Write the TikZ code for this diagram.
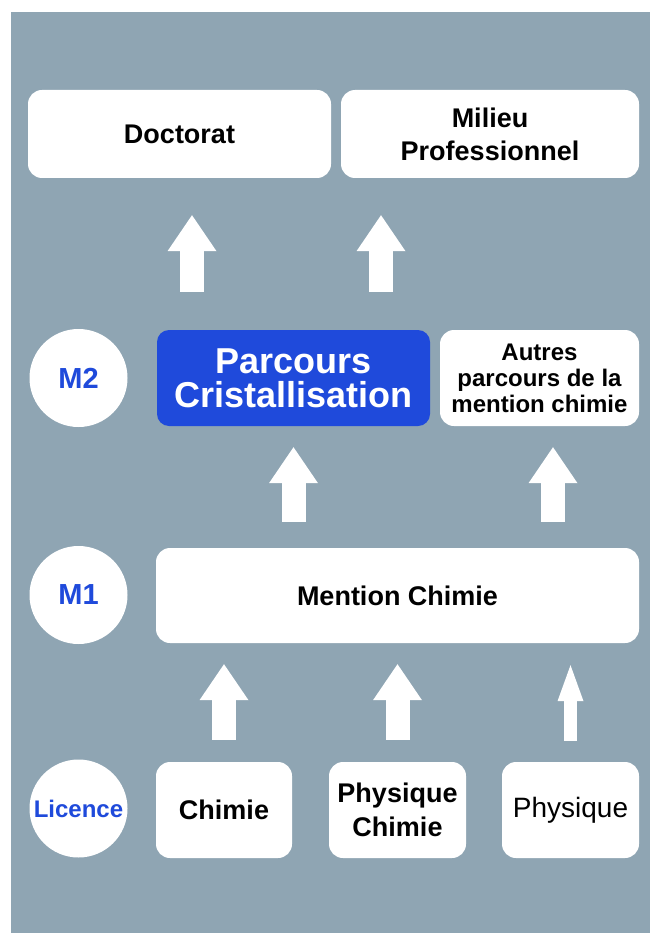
\documentclass[tikz,border=0pt]{standalone}
\usepackage{fontspec}
\setmainfont{Liberation Sans}
\usetikzlibrary{calc,arrows.meta}
\definecolor{fond}{HTML}{8FA5B3}
\definecolor{bleu}{HTML}{1F4ADB}
\tikzset{
  boite/.style={fill=white, rounded corners=14pt, minimum width=#1, minimum height=96pt,
    inner sep=0pt, align=center, font=\bfseries\fontsize{27}{33}\selectfont},
  niveau/.style={circle, fill=white, minimum size=98pt, inner sep=0pt, text=bleu,
    font=\bfseries\fontsize{29}{32}\selectfont},
  fleche/.style={draw=white, line width=24pt, -{Triangle[width=49pt,length=36pt,line width=0pt]}},
  flechefine/.style={draw=white, line width=12.6pt, -{Triangle[width=26pt,length=36pt,line width=0pt]}},
}
\begin{document}
\begin{tikzpicture}[x=1pt,y=-1pt]
  \useasboundingbox (0,0) rectangle (650,933);
  \fill[fond] (11,12) rectangle (650,933);
  % niveaux
  \node[niveau] (M2) at (78.5,378) {M2};
  \node[niveau] (M1) at (78.5,595) {M1};
  \node[niveau,font=\bfseries\fontsize{24}{28}\selectfont] (L) at (78.5,808.5) {Licence};
  % licences
  \node[boite=136pt] (chimie) at (224,810) {Chimie};
  \node[boite=137pt,font=\bfseries\fontsize{27}{34}\selectfont] (physchim) at (397.5,810) {Physique\\Chimie};
  \node[boite=137pt,font=\fontsize{28}{32}\selectfont] (physique) at (570.5,810) {Physique};
  % master
  \node[boite=483pt,minimum height=95pt] (mention) at (397.5,595.5) {Mention Chimie};
  \node[boite=273pt,fill=bleu,text=white,rounded corners=12pt,
    font=\bfseries\fontsize{36}{34}\selectfont] (parcours) at (293.5,378) {Parcours\\Cristallisation};
  \node[boite=199pt,font=\bfseries\fontsize{24}{26}\selectfont] (autres) at (539.5,378)
    {Autres\\parcours de la\\mention chimie};
  % debouches
  \node[boite=303pt,minimum height=88pt] (doctorat) at (179.5,134) {Doctorat};
  \node[boite=298pt,minimum height=88pt] (milieu) at (490,134) {Milieu\\Professionnel};
  % fleches
  \draw[fleche,shorten <=22pt,shorten >=21pt] (chimie.north) -- (chimie.north |- mention.south);
  \draw[fleche,shorten <=22pt,shorten >=21pt] (physchim.north) -- (physchim.north |- mention.south);
  \draw[flechefine,shorten <=21pt,shorten >=22pt] (physique.north) -- (physique.north |- mention.south);
  \coordinate (a1) at ([xshift=13.5pt]autres.south);
  \draw[fleche,shorten <=26pt,shorten >=21pt] (parcours.south |- mention.north) -- (parcours.south);
  \draw[fleche,shorten <=26pt,shorten >=21pt] (a1 |- mention.north) -- (a1);
  \coordinate (p1) at ([xshift=-101.5pt]parcours.north);
  \coordinate (p2) at ([xshift=87.5pt]parcours.north);
  \draw[fleche,shorten <=38pt,shorten >=37pt] (p1) -- (p1 |- doctorat.south);
  \draw[fleche,shorten <=38pt,shorten >=37pt] (p2) -- (p2 |- milieu.south);
\end{tikzpicture}
\end{document}
